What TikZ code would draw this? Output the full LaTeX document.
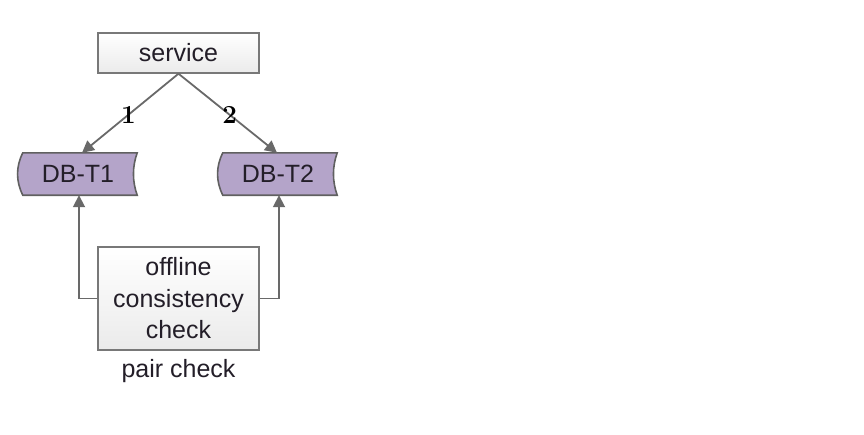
\documentclass[tikz,border=0pt]{standalone}
\usepackage{fontspec}
\setmainfont{Liberation Sans}
\newfontfamily\numfont{Latin Modern Roman}
\usepackage{tikz}
\usetikzlibrary{arrows.meta,backgrounds,positioning}
\definecolor{dbPurple}{RGB}{180,164,201}
\definecolor{edgeGray}{RGB}{105,105,105}
\definecolor{boxGray}{RGB}{120,120,120}
\definecolor{textDark}{RGB}{35,30,40}

% wavy data store outline round a named node
\newcommand\dbshape[1]{%
	\filldraw[fill=dbPurple,draw=boxGray!80!black,line width=1.6pt]
	([xshift=4pt]#1.north west) -- (#1.north east)
	.. controls ([xshift=-5pt,yshift=-14pt]#1.north east) and ([xshift=-5pt,yshift=14pt]#1.south east) .. (#1.south east)
	-- ([xshift=4pt]#1.south west)
	.. controls ([xshift=-3pt,yshift=14pt]#1.south west) and ([xshift=-3pt,yshift=-14pt]#1.north west) .. ([xshift=4pt]#1.north west)
	-- cycle;}

\begin{document}
\begin{tikzpicture}[%
	x=1pt,y=1pt,
	every node/.style={
		font=\fontsize{25}{31.5}\selectfont, text=textDark,
	},
	procbox/.style={
		draw=boxGray, line width=1.4pt,
		top color=white, bottom color=black!8,
		inner sep=0pt, align=center,
	},
	dbtext/.style={
		minimum width=118pt, minimum height=42pt, inner sep=0pt,
	},
	link/.style={
		draw=edgeGray, line width=1.8pt,
		-{Triangle[length=12pt,width=12pt]},
	},
	num/.style={
		font=\numfont\fontsize{26}{26}\selectfont, text=black, inner sep=0pt,
	},
	]
	\useasboundingbox (0,0) rectangle (864,-434);

	% service on top
	\node[procbox, minimum width=161pt, minimum height=40pt] (svc) at (178.5,-53) {service};

	% the two tables
	\node[dbtext] (dbone) at (78,-174) {DB-T1};
	\node[dbtext] (dbtwo) at (278,-174) {DB-T2};
	\begin{scope}[on background layer]
		\dbshape{dbone}
		\dbshape{dbtwo}
	\end{scope}

	% checker below
	\node[procbox, minimum width=161pt, minimum height=103pt] (chk) at (178.5,-298.5) {offline\\consistency\\check};
	\node[below=8pt of chk, inner sep=0pt] (pair) {pair check};

	% writes
	\draw[link] (svc.south) -- ([xshift=4pt]dbone.north) node[num, pos=.52] (one) {\textbf{1}};
	\draw[link] (svc.south) -- ([xshift=-1pt]dbtwo.north) node[num, pos=.52] (two) {\textbf{2}};

	% reads
	\draw[link] (chk.west) -| ([xshift=1pt]dbone.south);
	\draw[link] (chk.east) -| ([xshift=1pt]dbtwo.south);
\end{tikzpicture}
\end{document}
